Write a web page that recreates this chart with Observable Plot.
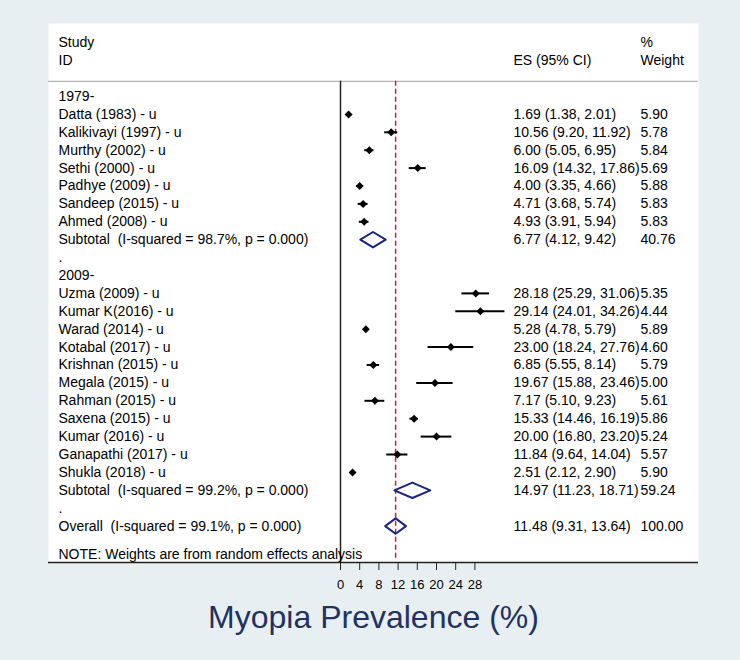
<!DOCTYPE html>
<html><head><meta charset="utf-8">
<script src="https://cdn.jsdelivr.net/npm/d3@7"></script>
<script src="https://cdn.jsdelivr.net/npm/@observablehq/plot@0.6"></script>
<style>
html,body{margin:0;padding:0;background:#e8eff2;}
#chart svg text{white-space:pre;}
</style></head><body><div id="chart"></div>
<script>
// ---- data ----
const group1Label = "1979-";
const group1Studies = ["Datta (1983) - u", "Kalikivayi (1997) - u", "Murthy (2002) - u", "Sethi (2000) - u", "Padhye (2009) - u", "Sandeep (2015) - u", "Ahmed (2008) - u"];
const group1ES = [1.69, 10.56, 6.00, 16.09, 4.00, 4.71, 4.93];
const group1Lo = [1.38, 9.20, 5.05, 14.32, 3.35, 3.68, 3.91];
const group1Hi = [2.01, 11.92, 6.95, 17.86, 4.66, 5.74, 5.94];
const group1Weight = [5.90, 5.78, 5.84, 5.69, 5.88, 5.83, 5.83];

const group2Label = "2009-";
const group2Studies = ["Uzma (2009) - u", "Kumar K(2016) - u", "Warad (2014) - u", "Kotabal (2017) - u", "Krishnan (2015) - u", "Megala (2015) - u", "Rahman (2015) - u", "Saxena (2015) - u", "Kumar (2016) - u", "Ganapathi (2017) - u", "Shukla (2018) - u"];
const group2ES = [28.18, 29.14, 5.28, 23.00, 6.85, 19.67, 7.17, 15.33, 20.00, 11.84, 2.51];
const group2Lo = [25.29, 24.01, 4.78, 18.24, 5.55, 15.88, 5.10, 14.46, 16.80, 9.64, 2.12];
const group2Hi = [31.06, 34.26, 5.79, 27.76, 8.14, 23.46, 9.23, 16.19, 23.20, 14.04, 2.90];
const group2Weight = [5.35, 4.44, 5.89, 4.60, 5.79, 5.00, 5.61, 5.86, 5.24, 5.57, 5.90];

const pooledLabels = ["Subtotal", "Subtotal", "Overall"];
const pooledISquared = ["98.7%", "99.2%", "99.1%"];
const pooledP = ["0.000", "0.000", "0.000"];
const pooledES = [6.77, 14.97, 11.48];
const pooledLo = [4.12, 11.23, 9.31];
const pooledHi = [9.42, 18.71, 13.64];
const pooledWeight = [40.76, 59.24, 100.00];

const xTicks = [0, 4, 8, 12, 16, 20, 24, 28];
const headerStudy = ["Study", "ID"];
const headerES = "ES (95% CI)";
const headerWeight = ["%", "Weight"];
const noteText = "NOTE: Weights are from random effects analysis";
const xTitle = "Myopia Prevalence (%)";

// ---- table of rows ----
const fmt = d3.format(".2f");
const studies = [];
const labels = [];
const pooled = [];
let r = 0;
labels.push({row: r++, text: group1Label});
group1Studies.forEach((s, i) => {
  labels.push({row: r, text: s});
  studies.push({row: r++, es: group1ES[i], lo: group1Lo[i], hi: group1Hi[i], w: group1Weight[i]});
});
const pooledRows = [];
pooledRows.push(r); labels.push({row: r++, text: `${pooledLabels[0]}  (I-squared = ${pooledISquared[0]}, p = ${pooledP[0]})`});
labels.push({row: r++, text: "."});
labels.push({row: r++, text: group2Label});
group2Studies.forEach((s, i) => {
  labels.push({row: r, text: s});
  studies.push({row: r++, es: group2ES[i], lo: group2Lo[i], hi: group2Hi[i], w: group2Weight[i]});
});
pooledRows.push(r); labels.push({row: r++, text: `${pooledLabels[1]}  (I-squared = ${pooledISquared[1]}, p = ${pooledP[1]})`});
labels.push({row: r++, text: "."});
pooledRows.push(r); labels.push({row: r++, text: `${pooledLabels[2]}  (I-squared = ${pooledISquared[2]}, p = ${pooledP[2]})`});
pooledES.forEach((e, i) => pooled.push({row: pooledRows[i], es: e, lo: pooledLo[i], hi: pooledHi[i], w: pooledWeight[i]}));

const noteRow = r + 0.6;
const headerRows = [-3, -2];
const sepRow = -0.85;
const bottomRow = 26.03;
const dh = 0.43;

labels.push({row: headerRows[0], text: headerStudy[0]});
labels.push({row: headerRows[1], text: headerStudy[1]});
labels.push({row: noteRow, text: noteText});

const esRows = [...studies, ...pooled].map(d => ({row: d.row, text: `${fmt(d.es)} (${fmt(d.lo)}, ${fmt(d.hi)})`}));
esRows.push({row: headerRows[1], text: headerES});
const wRows = [...studies, ...pooled].map(d => ({row: d.row, text: fmt(d.w)}));
wRows.push({row: headerRows[0], text: headerWeight[0]});
wRows.push({row: headerRows[1], text: headerWeight[1]});

const diamonds = pooled.flatMap((d, i) => [
  {id: i, x: d.lo, y: d.row},
  {id: i, x: d.es, y: d.row - dh},
  {id: i, x: d.hi, y: d.row},
  {id: i, x: d.es, y: d.row + dh}
]);

const font = "Arial, 'Liberation Sans', sans-serif";
const chart = Plot.plot({
  width: 740,
  height: 660,
  marginLeft: 48,
  marginRight: 42,
  marginTop: 23,
  marginBottom: 98,
  style: {background: "#e8eff2", fontFamily: font, fontSize: "14px", color: "black"},
  x: {domain: [0, 28], range: [340, 340 + 28 * 4.8]},
  y: {domain: [0, 25], range: [96, 96 + 25 * 17.9], axis: null},
  marks: [
    Plot.frame({fill: "white", stroke: "none"}),
    Plot.ruleY([sepRow], {stroke: "#b4b4b4", strokeWidth: 1.2}),
    Plot.ruleY([bottomRow], {stroke: "#222", strokeWidth: 1.5}),
    Plot.ruleX([0], {y1: sepRow, y2: bottomRow, stroke: "#222", strokeWidth: 1.5}),
    Plot.ruleX([pooledES[2]], {y1: sepRow, y2: bottomRow - 0.1, stroke: "#c4213a", strokeWidth: 1.5, strokeDasharray: "5,3"}),
    Plot.ruleY(studies, {y: "row", x1: "lo", x2: "hi", stroke: "black", strokeWidth: 2}),
    Plot.dot(studies, {x: "es", y: "row", symbol: "diamond2", r: 3.6, fill: "black", stroke: "none"}),
    Plot.line(diamonds, {x: "x", y: "y", z: "id", curve: "linear-closed", stroke: "#1b237f", strokeWidth: 2}),
    Plot.text(labels, {y: "row", text: "text", frameAnchor: "left", dx: 10, textAnchor: "start", fontSize: 14, fill: "black"}),
    Plot.text(esRows, {y: "row", text: "text", frameAnchor: "left", dx: 465, textAnchor: "start", fontSize: 14, fill: "black"}),
    Plot.text(wRows, {y: "row", text: "text", frameAnchor: "left", dx: 592, textAnchor: "start", fontSize: 14, fill: "black"}),
    Plot.axisX(xTicks, {anchor: "bottom", tickSize: 8, tickPadding: 9, fontSize: 13, label: null, stroke: "#222", fill: "black"}),
    Plot.text([xTitle], {text: d => d, frameAnchor: "bottom", dy: 65, lineAnchor: "bottom", fontSize: 32, fill: "#1f3260"})
  ]
});
document.getElementById("chart").appendChild(chart);
</script></body></html>
